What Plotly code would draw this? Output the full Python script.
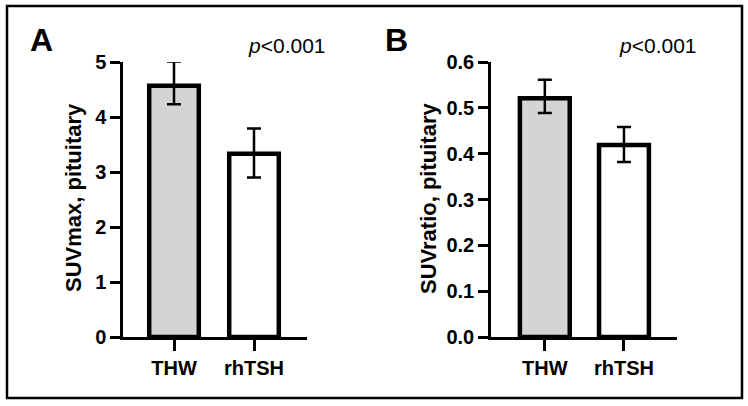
import plotly.graph_objects as go

categories = ["THW", "rhTSH"]
suvmax_mean = [4.57, 3.33]
suvmax_err_plus = [0.44, 0.46]
suvmax_err_minus = [0.34, 0.43]
suvratio_mean = [0.521, 0.419]
suvratio_err_plus = [0.040, 0.039]
suvratio_err_minus = [0.032, 0.037]
bar_colors = ["#d4d4d4", "#ffffff"]
panel_labels = ["A", "B"]
p_texts = ["<i>p</i><0.001", "<i>p</i><0.001"]
y_titles = ["<b>SUVmax, pituitary</b>", "<b>SUVratio, pituitary</b>"]

W, H = 748, 406
FONT = "Liberation Sans, Arial, sans-serif"

fig = go.Figure()

fig.add_trace(go.Bar(
    x=[0, 1], y=suvmax_mean, width=0.62,
    marker=dict(color=bar_colors, line=dict(color="black", width=4.5)),
    error_y=dict(type="data", symmetric=False, array=suvmax_err_plus,
                 arrayminus=suvmax_err_minus, color="black", thickness=2.5, width=7),
    xaxis="x", yaxis="y", showlegend=False,
))
fig.add_trace(go.Bar(
    x=[0, 1], y=suvratio_mean, width=0.63,
    marker=dict(color=bar_colors, line=dict(color="black", width=4.5)),
    error_y=dict(type="data", symmetric=False, array=suvratio_err_plus,
                 arrayminus=suvratio_err_minus, color="black", thickness=2.5, width=7),
    xaxis="x2", yaxis="y2", showlegend=False,
))

ydom = [69 / H, 344 / H]
common_x = dict(
    tickmode="array", tickvals=[0, 1], ticktext=[f"<b>{c}</b>" for c in categories],
    showline=True, linecolor="black", linewidth=2.5,
    ticks="outside", ticklen=11, tickwidth=2.5, tickcolor="black",
    tickfont=dict(family=FONT, size=20, color="black"),
    showgrid=False, zeroline=False, fixedrange=True, automargin=False,
)
common_y = dict(
    domain=ydom,
    showline=True, linecolor="black", linewidth=2.5,
    ticks="outside", ticklen=10, tickwidth=2.5, tickcolor="black",
    tickfont=dict(family=FONT, size=20, color="black"),
    showgrid=False, zeroline=False, fixedrange=True, automargin=False,
)

fig.update_layout(
    template="none",
    width=W, height=H,
    margin=dict(l=0, r=0, t=0, b=0, pad=0, autoexpand=False),
    paper_bgcolor="white", plot_bgcolor="white",
    xaxis=dict(domain=[123 / W, 307 / W], range=[-0.6375, 1.6625], anchor="y", **common_x),
    xaxis2=dict(domain=[491 / W, 677 / W], range=[-0.68, 1.67], anchor="y2", **common_x),
    yaxis=dict(range=[0, 5], tickvals=[0, 1, 2, 3, 4, 5],
               ticktext=[f"<b>{v}</b>" for v in ["0", "1", "2", "3", "4", "5"]],
               anchor="x", **common_y),
    yaxis2=dict(range=[0, 0.6], tickvals=[0, 0.1, 0.2, 0.3, 0.4, 0.5, 0.6],
                ticktext=[f"<b>{v}</b>" for v in ["0.0", "0.1", "0.2", "0.3", "0.4", "0.5", "0.6"]],
                anchor="x2", **common_y),
)

# outer frame
fig.add_shape(type="rect", xref="paper", yref="paper",
              x0=7 / W, x1=742 / W, y0=1 - 398 / H, y1=1 - 6 / H,
              line=dict(color="black", width=2.5), fillcolor="rgba(0,0,0,0)")

ann = []
for i, (lx, px, tx) in enumerate([(41, 287, 74), (396, 658, 429)]):
    ann.append(dict(text=f"<b>{panel_labels[i]}</b>", x=lx / W, y=1 - 40 / H,
                    xref="paper", yref="paper", showarrow=False,
                    xanchor="center", yanchor="middle",
                    font=dict(family=FONT, size=32, color="black")))
    ann.append(dict(text=p_texts[i], x=px / W, y=1 - 45 / H,
                    xref="paper", yref="paper", showarrow=False,
                    xanchor="center", yanchor="middle",
                    font=dict(family=FONT, size=21, color="black")))
    ann.append(dict(text=y_titles[i], x=tx / W, y=1 - 198 / H,
                    xref="paper", yref="paper", showarrow=False, textangle=-90,
                    xanchor="center", yanchor="middle",
                    font=dict(family=FONT, size=22, color="black")))
fig.update_layout(annotations=ann)

fig.write_html("out.html")
